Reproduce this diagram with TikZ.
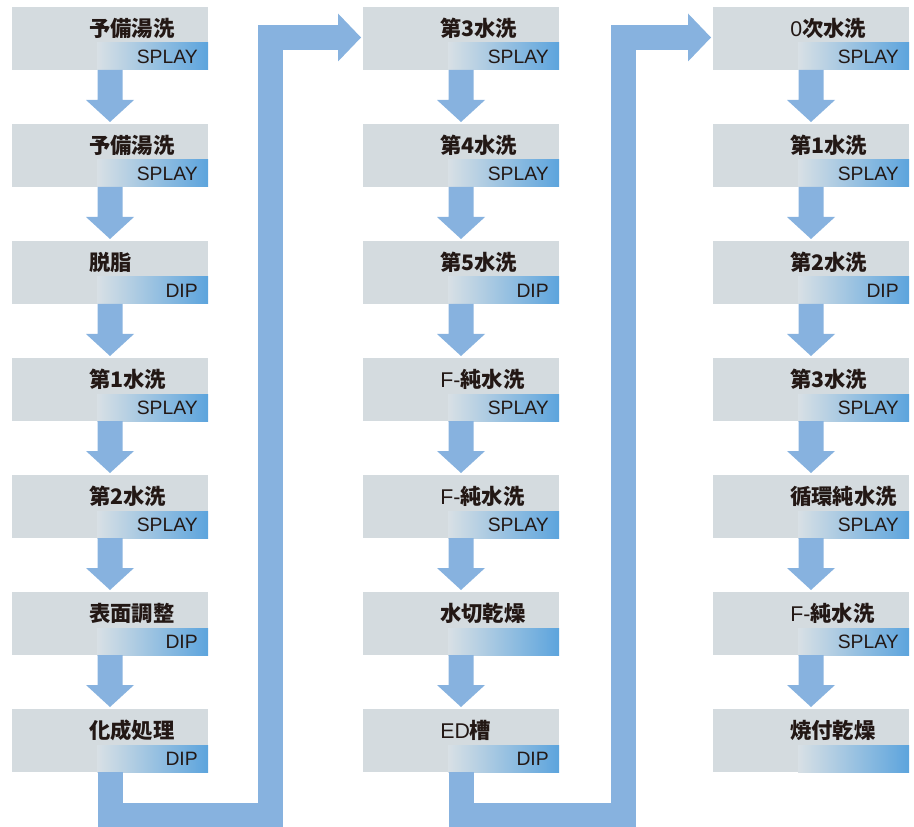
\documentclass[tikz,border=0pt]{standalone}
\usepackage{fontspec}
\setmainfont{Liberation Sans}
\newfontfamily\jp{Noto Sans CJK JP}
\usetikzlibrary{calc}
\definecolor{boxgray}{HTML}{D4DBDF}
\definecolor{stripleft}{HTML}{D8E0E5}
\definecolor{stripright}{HTML}{5CA4DD}
\definecolor{flowblue}{HTML}{87B2DF}
\definecolor{ink}{HTML}{231815}
\newcommand\lat[1]{{\normalfont\fontsize{16}{16}\selectfont #1}}
\tikzset{
 boxnode/.style={fill=boxgray, minimum width=147pt, minimum height=47.25pt, inner sep=0pt, outer sep=0pt},
 titletext/.style={anchor=west, inner sep=0pt, text=ink, font=\jp\bfseries\fontsize{16}{16}\selectfont},
 tagtext/.style={anchor=east, inner sep=0pt, text=ink, font=\fontsize{14.5}{14.5}\selectfont},
 flow/.style={fill=flowblue},
 band/.style={draw=flowblue, line width=18.75pt, line join=miter},
}
% #1 name, #2 left x, #3 top y, #4 title, #5 tag
\newcommand\procbox[5]{%
 \node[boxnode] (#1) at ({#2+98},{#3+31.5}) {};
 \shade[left color=stripleft, right color=stripright] ($(#1.south west)+(85,-27)$) rectangle (#1.south east);
 \node[titletext] (#1-t) at ($(#1.west)+(77,-10.5)$) {#4};
 \node[tagtext] (#1-g) at ($(#1.east)+(-10,18.5)$) {#5};
}
\newcommand\flowdown[2]{%
 \fill[flow] ($(#1.south)+(-12.5,0)$) -- ($(#1.south)+(12.5,0)$) -- ($(#1.south)+(12.5,30)$)
  -- ($(#1.south)+(24,30)$) -- ($(#2.north)+(0,-2)$) -- ($(#1.south)+(-24,30)$)
  -- ($(#1.south)+(-12.5,30)$) -- cycle;
}
\begin{document}
\begin{tikzpicture}[x=0.75pt,y=-0.75pt]
\useasboundingbox (0,0) rectangle (914,827);
% column 1
\procbox{a1}{12}{7}{予備湯洗}{SPLAY}
\procbox{a2}{12}{124}{予備湯洗}{SPLAY}
\procbox{a3}{12}{241}{脱脂}{DIP}
\procbox{a4}{12}{358}{第1水洗}{SPLAY}
\procbox{a5}{12}{475}{第2水洗}{SPLAY}
\procbox{a6}{12}{592}{表面調整}{DIP}
\procbox{a7}{12}{709}{化成処理}{DIP}
% column 2
\procbox{b1}{363}{7}{第3水洗}{SPLAY}
\procbox{b2}{363}{124}{第4水洗}{SPLAY}
\procbox{b3}{363}{241}{第5水洗}{DIP}
\procbox{b4}{363}{358}{\lat{F-}純水洗}{SPLAY}
\procbox{b5}{363}{475}{\lat{F-}純水洗}{SPLAY}
\procbox{b6}{363}{592}{水切乾燥}{}
\procbox{b7}{363}{709}{\lat{ED}槽}{DIP}
% column 3
\procbox{c1}{713}{7}{\lat{0}次水洗}{SPLAY}
\procbox{c2}{713}{124}{第1水洗}{SPLAY}
\procbox{c3}{713}{241}{第2水洗}{DIP}
\procbox{c4}{713}{358}{第3水洗}{SPLAY}
\procbox{c5}{713}{475}{循環純水洗}{SPLAY}
\procbox{c6}{713}{592}{\lat{F-}純水洗}{SPLAY}
\procbox{c7}{713}{709}{焼付乾燥}{}
% down arrows
\flowdown{a1}{a2}\flowdown{a2}{a3}\flowdown{a3}{a4}\flowdown{a4}{a5}\flowdown{a5}{a6}\flowdown{a6}{a7}
\flowdown{b1}{b2}\flowdown{b2}{b3}\flowdown{b3}{b4}\flowdown{b4}{b5}\flowdown{b5}{b6}\flowdown{b6}{b7}
\flowdown{c1}{c2}\flowdown{c2}{c3}\flowdown{c3}{c4}\flowdown{c4}{c5}\flowdown{c5}{c6}\flowdown{c6}{c7}
% connector column 1 -> column 2
\coordinate (t1) at ($(b1.west)+(-2,-1)$);
\draw[band] (a7.south) -- ++(0,43) -| ($(t1)+(-90.5,0)$) -- ($(t1)+(-23,0)$);
\fill[flow] ($(t1)+(-23,-24)$) -- (t1) -- ($(t1)+(-23,24)$) -- cycle;
% connector column 2 -> column 3
\coordinate (t2) at ($(c1.west)+(-2,-1)$);
\draw[band] (b7.south) -- ++(0,43) -| ($(t2)+(-87.5,0)$) -- ($(t2)+(-23,0)$);
\fill[flow] ($(t2)+(-23,-24)$) -- (t2) -- ($(t2)+(-23,24)$) -- cycle;
\end{tikzpicture}
\end{document}
